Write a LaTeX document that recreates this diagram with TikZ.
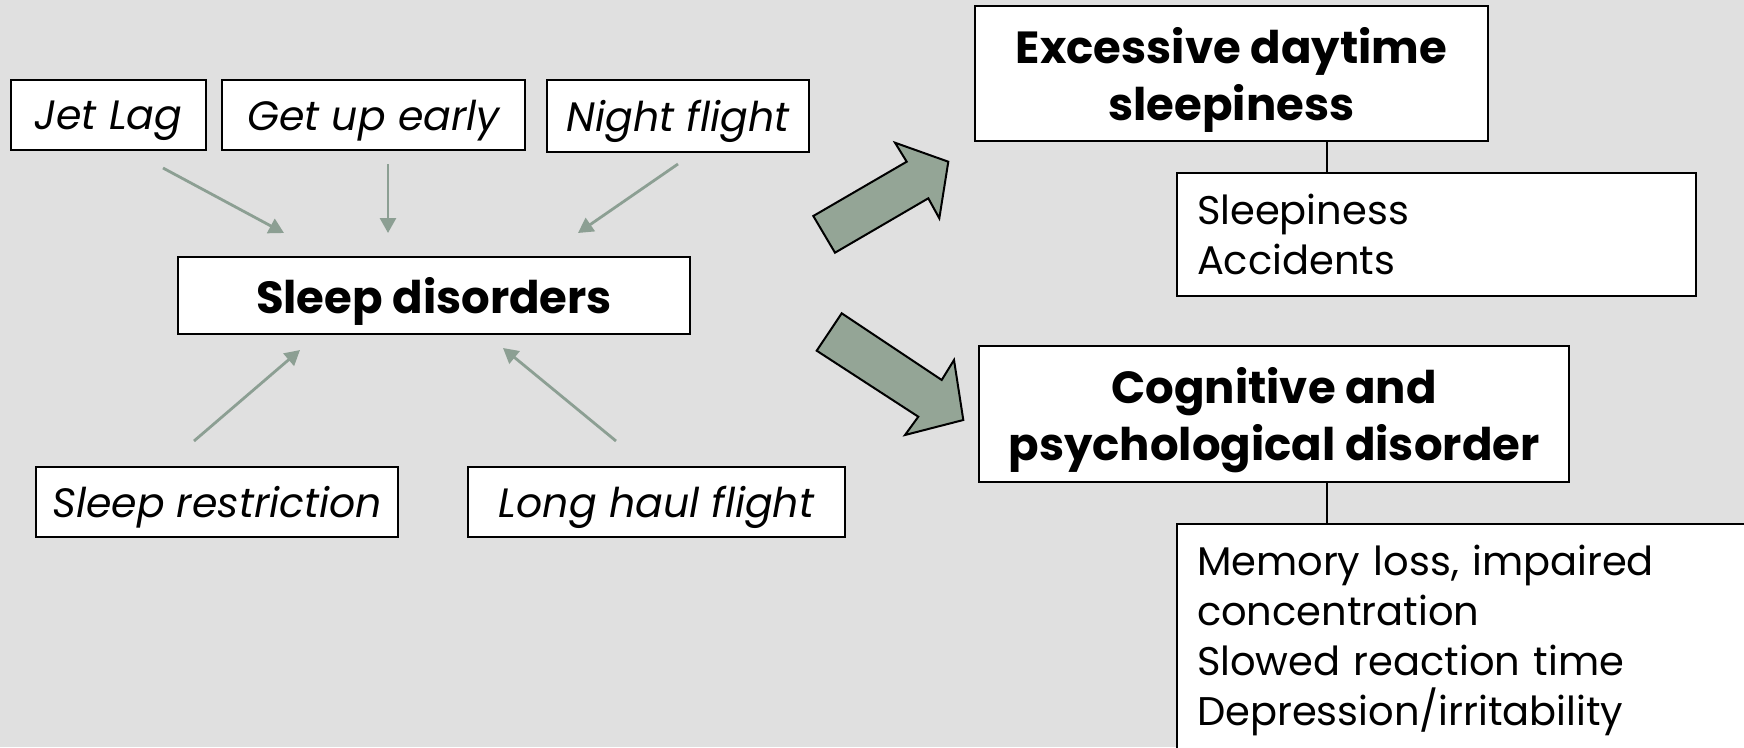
\documentclass[tikz,border=0pt]{standalone}
\usepackage{fontspec}
\setmainfont{Poppins}
\usetikzlibrary{positioning,calc,arrows.meta}
\definecolor{BgGray}{HTML}{E0E0E0}
\definecolor{SageLine}{HTML}{8C9F93}
\definecolor{SageFill}{HTML}{94A596}

\begin{document}
\begin{tikzpicture}[
  x=1pt, y=-1pt,
  cause/.style={draw, fill=white, line width=2pt, inner sep=0pt, text depth=0pt, font=\fontsize{41}{48}\selectfont\itshape},
  effect/.style={draw, fill=white, line width=2pt, inner sep=0pt, text depth=0pt, align=center, font=\fontsize{45}{57}\selectfont\bfseries},
  detail/.style={draw, fill=white, line width=2pt, anchor=north west, align=left, inner xsep=20pt, inner ysep=21pt, font=\fontsize{40}{50}\selectfont},
  feed/.style={-{Triangle[length=15pt,width=16pt]}, line width=2.8pt, color=SageLine},
  link/.style={line width=2pt},
  bigarr/.style={draw, line width=2pt, fill=SageFill, line join=miter}
]
\clip (0,0) rectangle (1744,747);
\fill[BgGray] (0,0) rectangle (1744,747);

\node[cause, minimum width=195pt, minimum height=70pt] (jet) at (108.5,115) {Jet Lag};
\node[cause, minimum width=303pt, minimum height=70pt] (early) at (373.5,115) {Get up early};
\node[cause, minimum width=262pt, minimum height=72pt] (night) at (678,116) {Night flight};
\node[effect, minimum width=512pt, minimum height=77pt] (sleep) at (434,295.5) {Sleep disorders};
\node[cause, minimum width=362pt, minimum height=70pt] (restr) at (217,502) {Sleep restriction};
\node[cause, minimum width=377pt, minimum height=70pt] (haul) at (656.5,502) {Long haul flight};

\node[effect, minimum width=513pt, minimum height=135pt] (eds) at (1231.5,73.5) {Excessive daytime\\sleepiness};
\node[effect, minimum width=590pt, minimum height=136pt] (cog) at (1274,414) {Cognitive and\\psychological disorder};
\node[detail, text width=479pt] (sleepi) at (1176,172) {Sleepiness\\Accidents};
\node[detail, text width=580pt] (mem) at (1176,523) {Memory loss, impaired\\concentration\\Slowed reaction time\\Depression/irritability};

\draw[feed] ($(jet.south)+(54.5,17)$) -- ($(sleep.north)+(-150,-23)$);
\draw[feed] ($(early.south)+(14.5,13)$) -- ($(sleep.north)+(-46,-23)$);
\draw[feed] ($(night.south)+(0,11)$) -- ($(sleep.north)+(144,-23)$);
\draw[feed] ($(restr.north)+(-23,-25)$) -- ($(sleep.south)+(-134,15)$);
\draw[feed] ($(haul.north)+(-40.5,-25)$) -- ($(sleep.south)+(69,13)$);

\draw[bigarr] (813.3,216) -- (906.7,161.7) -- (895,142.7) -- (948.3,161.7) -- (939.3,218.3) -- (928.3,198.3) -- (835,252.7) -- cycle;
\draw[bigarr] (841.7,313.3) -- (941.7,380) -- (954,360) -- (963.3,420) -- (905,435) -- (918.3,416.7) -- (816.7,350.7) -- cycle;

\draw[link] ([xshift=95.5pt]eds.south) -- ([xshift=95.5pt]eds.south |- sleepi.north);
\draw[link] ([xshift=53pt]cog.south) -- ([xshift=53pt]cog.south |- mem.north);
\end{tikzpicture}
\end{document}
